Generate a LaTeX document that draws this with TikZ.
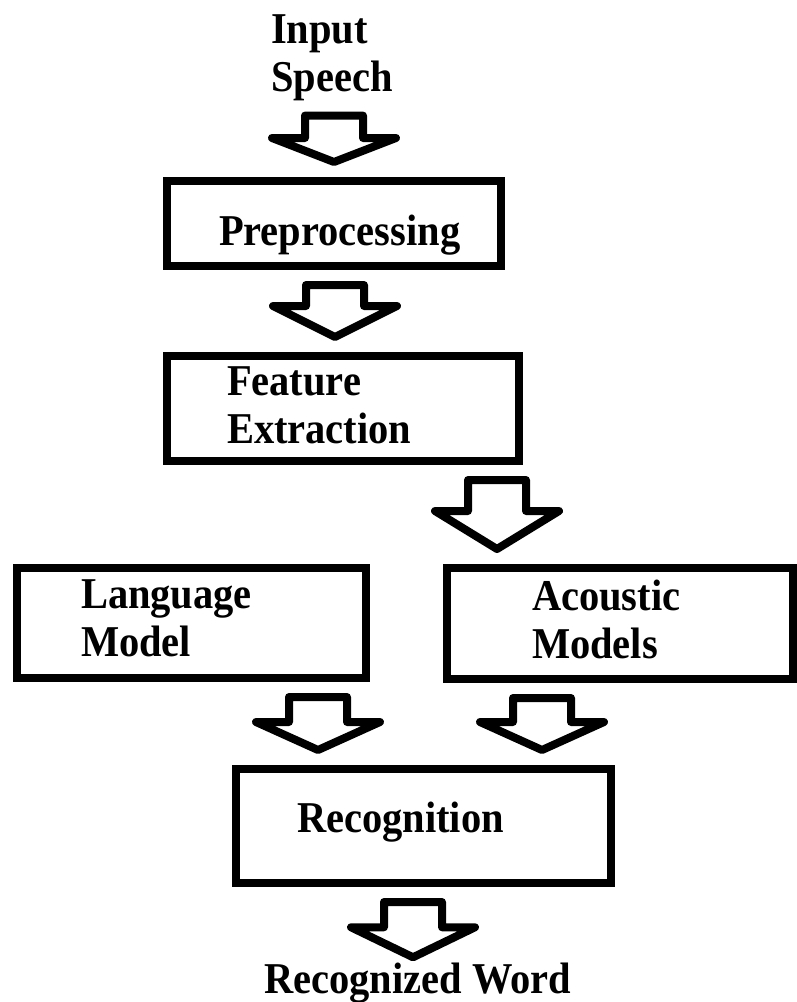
\documentclass[tikz,border=0pt]{standalone}
\usepackage{fontspec}
\setmainfont{Liberation Serif}[FakeStretch=0.92]
\usetikzlibrary{calc}
% hollow block arrow: x, start node, end node, head length
\newcommand{\blockarrow}[4]{%
  \draw[bigarrow] let \p1=#2, \p2=#3 in
    (#1pt-29pt,\y1-15pt) -- (#1pt+29pt,\y1-15pt) -- (#1pt+29pt,\y2+15pt+#4pt)
    -- (#1pt+62pt,\y2+15pt+#4pt) -- (#1pt,\y2+15pt) -- (#1pt-62pt,\y2+15pt+#4pt)
    -- (#1pt-29pt,\y2+15pt+#4pt) -- cycle;}
\begin{document}
\begin{tikzpicture}[x=1pt, y=-1pt,
  every node/.style={font=\fontsize{44}{48}\selectfont\bfseries},
  stagebox/.style={draw, line width=8pt, inner ysep=0pt, align=left},
  bigarrow/.style={draw, line width=8pt, line join=round}]
\useasboundingbox (0,0) rectangle (797,1002);

% 1. input and output texts
\node[anchor=base west, inner sep=0pt, text width=160, align=left] (inp) at (271,43) {Input\\Speech};
\node[anchor=base west, inner sep=0pt] (word) at (264,993) {Recognized Word};

% 2. stages
\node[stagebox, minimum width=334, minimum height=85, inner xsep=52, text width=230,
  text height=43, text depth=0] (pre) at (334,223.5) {Preprocessing};
\node[stagebox, minimum width=352, minimum height=105, inner xsep=60, text width=232,
  text height=10, text depth=37] (feat) at (343,408.5) {Feature\\Extraction};
\node[stagebox, minimum width=349, minimum height=110, inner xsep=64, text width=221,
  text height=10, text depth=40] (lang) at (191.5,623) {Language\\Model};
\node[stagebox, minimum width=346, minimum height=111, inner xsep=85, text width=176,
  text height=10, text depth=37] (ac) at (620,623.5) {Acoustic\\Models};
\node[stagebox, minimum width=375, minimum height=114, inner xsep=61, text width=253,
  text height=12, text depth=0] (rec) at (423.5,826) {Recognition};

% 3. block arrows
\blockarrow{334}{(inp.south)}{(pre.north)}{24}
\blockarrow{335}{(pre.south)}{(feat.north)}{31}
\blockarrow{497}{(feat.south)}{(ac.north)}{38}
\blockarrow{318}{(lang.south)}{(rec.north)}{28}
\blockarrow{542}{(ac.south)}{(rec.north)}{28}
\blockarrow{413}{(rec.south)}{($(word.north)+(0,10)$)}{30}
\end{tikzpicture}
\end{document}
